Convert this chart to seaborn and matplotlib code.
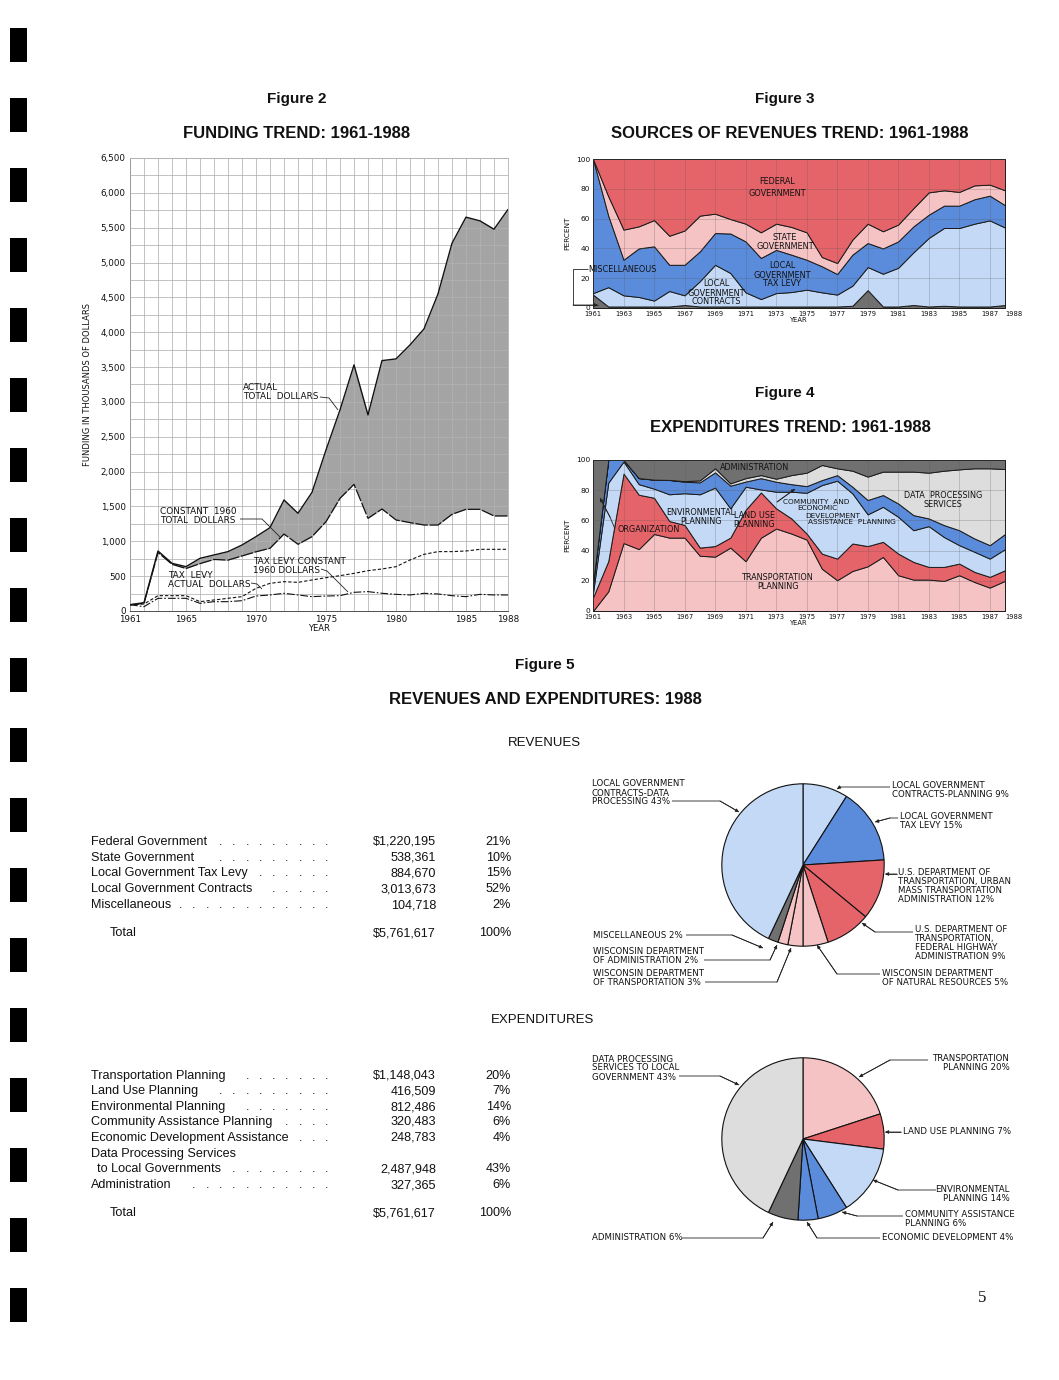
import numpy as np
import pandas as pd
import matplotlib
matplotlib.use("Agg")
import matplotlib.pyplot as plt
import seaborn as sns

# ---------------- DATA ----------------
years = list(range(1961, 1989))

# Figure 2 (thousands of dollars)
actual_total = [90, 120, 861, 684, 636, 756, 804, 852, 947, 1067, 1196, 1593, 1402, 1703,
                2311, 2885, 3531, 2813, 3593, 3617, 3818, 4048, 4550, 5277, 5651, 5598, 5478, 5762]
constant_total = [90, 110, 840, 670, 610, 680, 740, 730, 790, 850, 900, 1105, 957, 1067,
                  1282, 1617, 1818, 1330, 1464, 1306, 1268, 1234, 1234, 1388, 1459, 1459, 1364, 1364]
taxlevy_actual = [90, 100, 220, 220, 220, 134, 158, 182, 206, 325, 397, 421, 411, 445,
                  478, 507, 540, 579, 603, 636, 732, 813, 852, 852, 861, 885, 885, 885]
taxlevy_constant = [90, 62, 182, 182, 182, 110, 134, 134, 148, 215, 230, 254, 230, 206,
                    215, 220, 268, 278, 254, 239, 230, 254, 244, 220, 206, 239, 230, 230]

# Figure 3 (percent of revenues)
rev_misc = [9, 1, 1, 1, 1, 1, 2, 1, 1, 1, 1, 1, 1, 1, 1, 1, 1, 1.5, 12, 1, 1, 2, 1, 1.5, 1, 1, 1, 2]
rev_contracts = [1, 13, 7.5, 6.4, 4, 10.4, 6.5, 17, 28, 22.5, 9.5, 5, 9, 9.7, 11.3, 9.5, 8, 13.5,
                 15.5, 22, 26, 35.4, 46, 52.2, 52.7, 55.6, 57.8, 52]
rev_taxlevy = [90, 48, 23.9, 32.6, 36.4, 17.6, 20.5, 20, 21.3, 26.5, 34.2, 27.6, 29, 25.1, 20.1,
               17.5, 13.8, 20.8, 16.1, 17, 17.7, 17.4, 15.6, 15, 15, 16.4, 16.6, 15]
rev_state = [0, 13, 20.2, 14.8, 17.6, 19.5, 23, 24, 13, 9.7, 11.9, 17.2, 17.6, 18.6, 18.4, 6.2,
             7.4, 10.1, 13, 11.5, 11.3, 12.2, 15, 10.3, 9.2, 9.3, 7.4, 10]
rev_federal = [0, 25, 47.4, 45.2, 41, 51.5, 48, 38, 36.7, 40.3, 43.4, 49.2, 43.4, 45.6, 49.2, 65.8,
               69.8, 54.1, 43.4, 48.5, 44, 33, 22.4, 21, 22.1, 17.7, 17.2, 21]

# Figure 4 (percent of expenditures)
exp_transport = [0, 13, 45, 41, 51, 48.6, 48.6, 36.6, 36, 42, 33, 48.5, 54.6, 51.3, 47.3, 28, 20.4,
                 26.5, 29.6, 35.8, 23.7, 20.8, 20.8, 19.9, 23.7, 19.2, 15.5, 20]
exp_landuse = [9, 20, 46, 36, 24, 11, 8.4, 5.4, 7, 6.6, 34, 30, 13.4, 10, 4, 10, 14.3, 18.2, 13.4,
               10, 14.3, 11.7, 8.4, 9.3, 7.7, 6.7, 7.1, 7]
exp_environ = [3, 52, 8, 7, 6, 17.7, 21, 35.3, 38.7, 19.4, 15.3, 2, 11, 17.7, 27, 45.4, 51.6, 33.2,
               21, 23.2, 24.4, 21, 27, 19.8, 12.2, 13.3, 12.1, 14]
exp_commdev = [6, 15, 1, 4, 6, 9.5, 7.6, 7.9, 10.1, 15, 3.4, 7.5, 6.6, 5, 4.4, 3.3, 3.7, 4.4, 9.5,
               7.8, 8.8, 10, 5.1, 7.9, 9.9, 8.8, 8.9, 10]
exp_dataproc = [0, 0, 0, 0, 0, 0, 0.4, 1.3, 2.7, 1.5, 2.3, 2, 2, 6, 8.9, 10, 4.5, 10.6, 15.5, 15.5,
                21.1, 28.8, 30.3, 36, 40.3, 46.5, 50.9, 43]
exp_admin = [82, 0, 0, 12, 13, 13.2, 14, 13.5, 5.5, 15.5, 12, 10, 12.4, 10, 8.4, 3.3, 5.5, 7.1, 11,
             7.7, 7.7, 7.7, 8.4, 7.1, 6.2, 5.5, 5.5, 6]

# Figure 5 tables
rev_table_labels = ["Federal Government", "State Government", "Local Government Tax Levy",
                    "Local Government Contracts", "Miscellaneous"]
rev_table_amounts = ["$1,220,195", "538,361", "884,670", "3,013,673", "104,718"]
rev_table_pcts = ["21%", "10%", "15%", "52%", "2%"]
exp_table_labels = ["Transportation Planning", "Land Use Planning", "Environmental Planning",
                    "Community Assistance Planning", "Economic Development Assistance",
                    "Data Processing Services", " to Local Governments", "Administration"]
exp_table_amounts = ["$1,148,043", "416,509", "812,486", "320,483", "248,783", "", "2,487,948", "327,365"]
exp_table_pcts = ["20%", "7%", "14%", "6%", "4%", "", "43%", "6%"]
total_amount = "$5,761,617"
total_pct = "100%"

# Figure 5 pies
rev_pie_labels = ["LOCAL GOVERNMENT\nCONTRACTS-PLANNING 9%", "LOCAL GOVERNMENT\nTAX LEVY 15%",
                  "U.S. DEPARTMENT OF\nTRANSPORTATION, URBAN\nMASS TRANSPORTATION\nADMINISTRATION 12%",
                  "U.S. DEPARTMENT OF\nTRANSPORTATION,\nFEDERAL HIGHWAY\nADMINISTRATION 9%",
                  "WISCONSIN DEPARTMENT\nOF NATURAL RESOURCES 5%",
                  "WISCONSIN DEPARTMENT\nOF TRANSPORTATION 3%",
                  "WISCONSIN DEPARTMENT\nOF ADMINISTRATION 2%",
                  "MISCELLANEOUS 2%",
                  "LOCAL GOVERNMENT\nCONTRACTS-DATA\nPROCESSING 43%"]
rev_pie_values = [9, 15, 12, 9, 5, 3, 2, 2, 43]
exp_pie_labels = ["TRANSPORTATION\nPLANNING 20%", "LAND USE PLANNING 7%", "ENVIRONMENTAL\nPLANNING 14%",
                  "COMMUNITY ASSISTANCE\nPLANNING 6%", "ECONOMIC DEVELOPMENT 4%", "ADMINISTRATION 6%",
                  "DATA PROCESSING\nSERVICES TO LOCAL\nGOVERNMENT 43%"]
exp_pie_values = [20, 7, 14, 6, 4, 6, 43]

# ---------------- STYLE ----------------
sns.set_theme(style="white")
plt.rcParams["font.family"] = ["Liberation Sans", "DejaVu Sans"]
plt.rcParams["text.color"] = "#111111"
plt.rcParams["axes.labelcolor"] = "#111111"
plt.rcParams["xtick.color"] = "#111111"
plt.rcParams["ytick.color"] = "#111111"

RED = "#E5646A"
PINK = "#F6C3C5"
MBLUE = "#5B8CDB"
LBLUE = "#C3D9F5"
DGRAY = "#707070"
LGRAY = "#DDDDDD"
FILLGRAY = "#A4A4A4"
LET = "DejaVu Sans"
HEL = "Liberation Sans"

W, H = 1059, 1380
fig = plt.figure(figsize=(W / 100, H / 100), dpi=100)
fig.patch.set_facecolor("white")


def axrect(x0, y0, x1, y1):
    return [x0 / W, 1 - y1 / H, (x1 - x0) / W, (y1 - y0) / H]


# ---------------- FIGURE 2 ----------------
ax2 = fig.add_axes(axrect(130, 158, 508, 611))
df2 = pd.DataFrame({"year": years, "actual": actual_total, "const": constant_total,
                    "tl_act": taxlevy_actual, "tl_const": taxlevy_constant})
ax2.fill_between(df2["year"], df2["const"], df2["actual"], color=FILLGRAY, lw=0, zorder=1)
sns.lineplot(data=df2, x="year", y="actual", ax=ax2, color="#111111", lw=1.0, zorder=3)
sns.lineplot(data=df2, x="year", y="const", ax=ax2, color="#111111", lw=0.9, zorder=3)
sns.lineplot(data=df2, x="year", y="tl_act", ax=ax2, color="#111111", lw=0.8, zorder=3)
sns.lineplot(data=df2, x="year", y="tl_const", ax=ax2, color="#111111", lw=0.8, zorder=3)
ax2.lines[1].set_dashes([10, 1.4])
ax2.lines[2].set_dashes([3, 1.8])
ax2.lines[3].set_dashes([7, 1.8, 1.5, 1.8])
ax2.set_xlim(1961, 1988)
ax2.set_ylim(0, 6500)
ax2.set_xticks(years, minor=True)
ax2.set_xticks([1961, 1965, 1970, 1975, 1980, 1985, 1988])
ax2.set_yticks(np.arange(0, 6501, 250), minor=True)
ax2.set_yticks(np.arange(0, 6501, 500))
ax2.set_yticklabels([f"{v:,}" for v in range(0, 6501, 500)], fontsize=6.3, family=LET)
ax2.set_xticklabels(["1961", "1965", "1970", "1975", "1980", "1985", "1988"], fontsize=6.3, family=LET)
ax2.grid(True, which="both", color="#B2B2B2", lw=0.55, zorder=2)
ax2.set_axisbelow(False)
for s in ax2.spines.values():
    s.set_color("#B2B2B2")
    s.set_linewidth(0.6)
ax2.spines["left"].set_color("#333333")
ax2.spines["bottom"].set_color("#333333")
ax2.tick_params(length=0, pad=3)
ax2.set_xlabel("YEAR", fontsize=6, family=LET, labelpad=0)
ax2.set_ylabel("FUNDING IN THOUSANDS OF DOLLARS", fontsize=6, family=LET, labelpad=6)

# ---------------- FIGURE 3 ----------------
ax3 = fig.add_axes(axrect(593, 159, 1005, 308))
ax3.stackplot(years, rev_misc, rev_contracts, rev_taxlevy, rev_state, rev_federal,
              colors=[DGRAY, LBLUE, MBLUE, PINK, RED], edgecolor="#1a1a1a", linewidth=0.7)

# ---------------- FIGURE 4 ----------------
ax4 = fig.add_axes(axrect(593, 460, 1005, 611))
ax4.stackplot(years, exp_transport, exp_landuse, exp_environ, exp_commdev, exp_dataproc, exp_admin,
              colors=[PINK, RED, LBLUE, MBLUE, LGRAY, DGRAY], edgecolor="#1a1a1a", linewidth=0.7)

for ax in (ax3, ax4):
    ax.set_xlim(1961, 1988)
    ax.set_ylim(0, 100)
    ax.set_xticks(list(range(1961, 1988, 2)) + [1988])
    ax.set_xticklabels([str(y) for y in range(1961, 1988, 2)] + ["1988"], fontsize=4.9, family=LET)
    lbl = ax.get_xticklabels()[-1]
    lbl.set_horizontalalignment("left")
    ax.set_yticks(range(0, 101, 20))
    ax.set_yticklabels([str(v) for v in range(0, 101, 20)], fontsize=5.3, family=LET)
    ax.grid(True, color="#555555", lw=0.5, alpha=0.35)
    ax.set_axisbelow(False)
    ax.tick_params(length=0, pad=2)
    for s in ax.spines.values():
        s.set_visible(False)
    ax.set_xlabel("YEAR", fontsize=4.9, family=LET, labelpad=0)
    ax.set_ylabel("PERCENT", fontsize=5.3, family=LET, labelpad=4)

# ---------------- PIES ----------------
axp1 = fig.add_axes(axrect(803 - 82, 865 - 82, 803 + 82, 865 + 82))
axp1.pie(rev_pie_values, colors=[LBLUE, MBLUE, RED, RED, PINK, PINK, PINK, DGRAY, LBLUE],
         startangle=90, counterclock=False, radius=1,
         wedgeprops=dict(edgecolor="#111111", linewidth=0.8))
axp1.set_xlim(-1.01, 1.01)
axp1.set_ylim(-1.01, 1.01)

axp2 = fig.add_axes(axrect(803 - 82, 1139 - 82, 803 + 82, 1139 + 82))
axp2.pie(exp_pie_values, colors=[PINK, RED, LBLUE, MBLUE, MBLUE, DGRAY, LGRAY],
         startangle=90, counterclock=False, radius=1,
         wedgeprops=dict(edgecolor="#111111", linewidth=0.8))
axp2.set_xlim(-1.01, 1.01)
axp2.set_ylim(-1.01, 1.01)

# ---------------- PAGE OVERLAY ----------------
pg = fig.add_axes([0, 0, 1, 1], zorder=10)
pg.set_xlim(0, W)
pg.set_ylim(H, 0)
pg.axis("off")
pg.patch.set_alpha(0)


def T(x, y, s, size=5.8, ha="left", va="center", family=LET, **kw):
    pg.text(x, y, s, fontsize=size, ha=ha, va=va, family=family, linespacing=1.0, **kw)


def L(xs, ys, arrow=False, lw=0.6):
    pg.plot(xs, ys, color="#222222", lw=lw, solid_capstyle="butt")
    if arrow:
        pg.annotate("", xy=(xs[-1], ys[-1]), xytext=(xs[-2], ys[-2]),
                    arrowprops=dict(arrowstyle="-|>", lw=0.6, color="#222222",
                                    mutation_scale=5, shrinkA=0, shrinkB=0))


# binding marks
for i in range(19):
    yc = 45 + 70 * i
    pg.add_patch(plt.Rectangle((10, yc - 17), 17, 34, color="black", lw=0))

# titles
T(297, 99, "Figure 2", size=11, ha="center", family=HEL, fontweight="bold")
T(297, 133, "FUNDING TREND: 1961-1988", size=12, ha="center", family=HEL, fontweight="bold")
T(785, 99, "Figure 3", size=11, ha="center", family=HEL, fontweight="bold")
T(790, 133, "SOURCES OF REVENUES TREND: 1961-1988", size=12, ha="center", family=HEL, fontweight="bold")
T(785, 393, "Figure 4", size=11, ha="center", family=HEL, fontweight="bold")
T(790, 428, "EXPENDITURES TREND: 1961-1988", size=12, ha="center", family=HEL, fontweight="bold")
T(545, 665, "Figure 5", size=11, ha="center", family=HEL, fontweight="bold")
T(545, 700, "REVENUES AND EXPENDITURES: 1988", size=12, ha="center", family=HEL, fontweight="bold")
T(544, 743, "REVENUES", size=9.5, ha="center", family=HEL)
T(543, 1020, "EXPENDITURES", size=9.5, ha="center", family=HEL)
T(982, 1298, "5", size=12, ha="center", family="Liberation Serif")

# figure 2 annotations
FS2 = 6.4
T(243, 392, "ACTUAL\nTOTAL  DOLLARS", size=FS2)
L([320, 329, 338], [397, 398, 410])
T(160, 516, "CONSTANT  1960\nTOTAL  DOLLARS", size=FS2)
L([240, 262, 280], [519, 519, 537])
T(253, 566, "TAX LEVY CONSTANT\n1960 DOLLARS", size=FS2)
L([321, 327, 348], [569, 571, 592])
T(168, 580, "TAX  LEVY\nACTUAL  DOLLARS", size=FS2)
L([251, 257, 262], [583, 584, 589])

# figure 3 annotations
FS3 = 5.9
T(777, 182, "FEDERAL", size=FS3, ha="center")
T(777, 194, "GOVERNMENT", size=FS3, ha="center")
T(785, 242, "STATE\nGOVERNMENT", size=FS3, ha="center")
T(782, 275, "LOCAL\nGOVERNMENT\nTAX LEVY", size=FS3, ha="center")
T(716, 293, "LOCAL\nGOVERNMENT\nCONTRACTS", size=FS3, ha="center")
T(588, 269, "MISCELLANEOUS", size=FS3)
L([588, 573, 573, 598], [269, 269, 305, 305], arrow=True)

# figure 4 annotations
FS4 = 5.3
T(755, 468, "ADMINISTRATION", size=FS3, ha="center")
T(783, 501.5, "COMMUNITY  AND", size=FS4)
T(817, 508.5, "ECONOMIC", size=FS4, ha="center")
T(833, 515.5, "DEVELOPMENT", size=FS4, ha="center")
T(852, 522.5, "ASSISTANCE  PLANNING", size=FS4, ha="center")
L([777, 795], [502, 489], arrow=True)
T(701, 517, "ENVIRONMENTAL\nPLANNING", size=FS3, ha="center")
T(754, 520, "LAND USE\nPLANNING", size=FS3, ha="center")
T(617, 529, "ORGANIZATION", size=FS3)
L([615, 610, 600], [529, 517, 498], arrow=True)
T(943, 500, "DATA  PROCESSING\nSERVICES", size=FS3, ha="center")
T(778, 582, "TRANSPORTATION\nPLANNING", size=FS3, ha="center")

# tables
TAB = dict(family=HEL, size=9.1)


def table(y0s, labels, amounts, pcts, dots, total_y):
    for y, lab, am, pc, nd in zip(y0s, labels, amounts, pcts, dots):
        T(91 if not lab.startswith(" ") else 97, y, lab.strip(), **TAB)
        for k in range(nd):
            T(327 - 13.3 * k, y, ".", ha="center", **TAB)
        if am:
            T(436, y, am, ha="right", **TAB)
        if pc:
            T(511, y, pc, ha="right", **TAB)
    T(110, total_y, "Total", **TAB)
    T(436, total_y, total_amount, ha="right", **TAB)
    T(511, total_y, total_pct, ha="right", **TAB)


table([842, 858, 873, 889, 905], rev_table_labels, rev_table_amounts, rev_table_pcts,
      [9, 9, 6, 5, 12], 933)
table([1076, 1091, 1107, 1122, 1138, 1154, 1169, 1185], exp_table_labels, exp_table_amounts,
      exp_table_pcts, [7, 9, 7, 4, 3, 0, 8, 11], 1213)

# pie labels - revenues
PS = 6.2
T(592, 793, rev_pie_labels[8], size=PS)
L([672, 720, 739], [801, 801, 812], arrow=True)
T(892, 790, rev_pie_labels[0], size=PS)
L([890, 840, 837], [787, 787, 789], arrow=True)
T(900, 821, rev_pie_labels[1], size=PS)
L([898, 890, 875], [818, 818, 822], arrow=True)
T(898, 886, rev_pie_labels[2], size=PS)
L([897, 885], [874, 874], arrow=True)
T(915, 943, rev_pie_labels[3], size=PS)
L([913, 875, 862], [932, 932, 923], arrow=True)
T(882, 978, rev_pie_labels[4], size=PS)
L([880, 837, 817], [974, 974, 945], arrow=True)
T(593, 935, rev_pie_labels[7], size=PS)
L([686, 732, 763], [935, 935, 948], arrow=True)
T(593, 956, rev_pie_labels[6], size=PS)
L([704, 770, 777], [960, 960, 945], arrow=True)
T(593, 978, rev_pie_labels[5], size=PS)
L([705, 777, 791], [982, 982, 948], arrow=True)

# pie labels - expenditures
T(592, 1068, exp_pie_labels[6], size=PS)
L([679, 720, 739], [1076, 1076, 1085], arrow=True)
T(1010, 1063, exp_pie_labels[0], size=PS, ha="right")
L([928, 890, 859], [1060, 1060, 1077], arrow=True)
T(903, 1132, exp_pie_labels[1], size=PS)
L([901, 885], [1132, 1132], arrow=True)
T(1010, 1194, exp_pie_labels[2], size=PS, ha="right")
L([936, 898, 873], [1190, 1190, 1180], arrow=True)
T(905, 1219, exp_pie_labels[3], size=PS)
L([903, 857, 842], [1216, 1216, 1212], arrow=True)
T(882, 1238, exp_pie_labels[4], size=PS)
L([880, 817, 807], [1238, 1238, 1222], arrow=True)
T(592, 1238, exp_pie_labels[5], size=PS)
L([682, 763, 773], [1238, 1238, 1222], arrow=True)

fig.savefig("out.png", dpi=100, facecolor="white")
